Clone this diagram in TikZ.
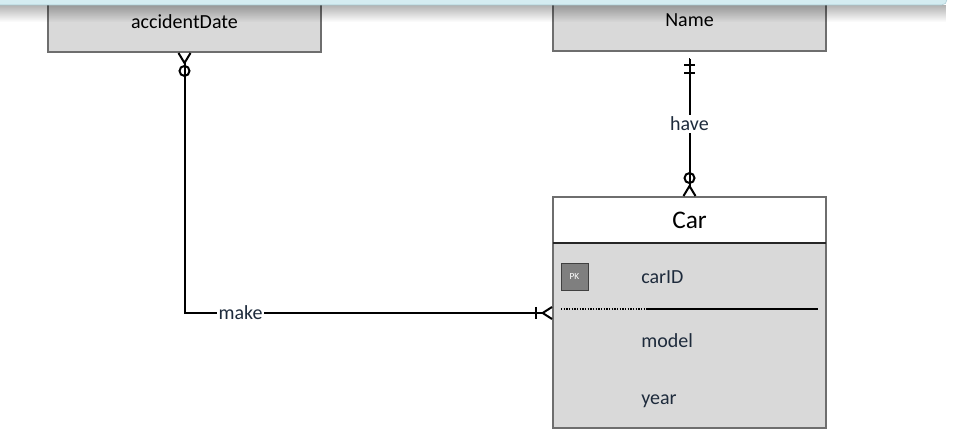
\documentclass[tikz,border=0pt]{standalone}
\usepackage{fontspec}
\setmainfont{Carlito}
\usetikzlibrary{positioning,arrows.meta,fadings}
\definecolor{boxgray}{HTML}{D9D9D9}
\definecolor{boxline}{HTML}{6E6E6E}
\definecolor{barblue}{HTML}{D4ECF1}
\definecolor{barline}{HTML}{A8CAD3}
\definecolor{pkgray}{HTML}{7F7F7F}
\definecolor{labtext}{HTML}{1E2B3C}

\begin{document}
\begin{tikzpicture}[x=0.75pt, y=-0.75pt, font=\fontsize{15}{18}\selectfont,
  ent/.style = {draw=boxline, fill=boxgray, line width=0.9pt, minimum width=204.75pt, inner sep=0pt, outer sep=0pt},
  attr/.style = {anchor=base west, inner sep=0pt, text=labtext},
  pk/.style = {draw=black!75, fill=pkgray, text=white, minimum size=20.25pt, inner sep=0pt, font=\fontsize{7}{8}\selectfont},
  link/.style = {line width=1.5pt},
  rel/.style = {fill=white, text=labtext, inner sep=1.5pt}]

\useasboundingbox (0,0) rectangle (953,445);

\node[ent, minimum height=45pt] (accdate) at (184.5,22) {accidentDate};
\node[ent, minimum height=46.5pt] (name) at (689.5,20) {Name};
\node[ent, fill=white, minimum height=34.5pt, font=\fontsize{19}{22}\selectfont] (carhead) at (689.5,220) {Car};
\node[ent, minimum height=138.75pt, below=0pt of carhead] (carbody) {};
\draw[black!85, line width=0.9pt] (carhead.south west) -- (carhead.south east);

\node[pk] (pk) at (574.5,276.5) {PK};
\node[attr] (carid) at (641,284) {carID};
\node[attr] (model) at (641,348) {model};
\node[attr] (year) at (641,404) {year};
\draw[line width=1pt, densely dotted] (561,309) -- (648,309);
\draw[line width=1pt] (648,309) -- (818,309);

\coordinate (carin) at ([yshift=16.875pt]carbody.west);

\draw[link, {Straight Barb[reversed,length=7.5pt,width=9pt]Circle[open,length=9pt,width=9pt]}-{Bar[width=9pt,sep=3pt]Straight Barb[reversed,length=7pt,width=9pt]}]
  (accdate.south) |- node[rel, pos=0.576] (make) {make} (carin);
\draw[link, {Bar[width=0pt,line width=0pt,sep=6pt]Bar[width=8pt,sep=4pt]Bar[width=8pt,sep=4pt]}-{Circle[open,length=9pt,width=9pt]Straight Barb[reversed,length=7.5pt,width=9pt]}]
  (name.south) -- node[rel] (have) {have} (carhead.north);

% window edge on top
\fill[black, opacity=0.3, path fading=south] (-10,5) rectangle (946,22);
\draw[barline, fill=barblue, rounded corners=4pt] (-10,-10) rectangle (947,5);
\end{tikzpicture}
\end{document}
